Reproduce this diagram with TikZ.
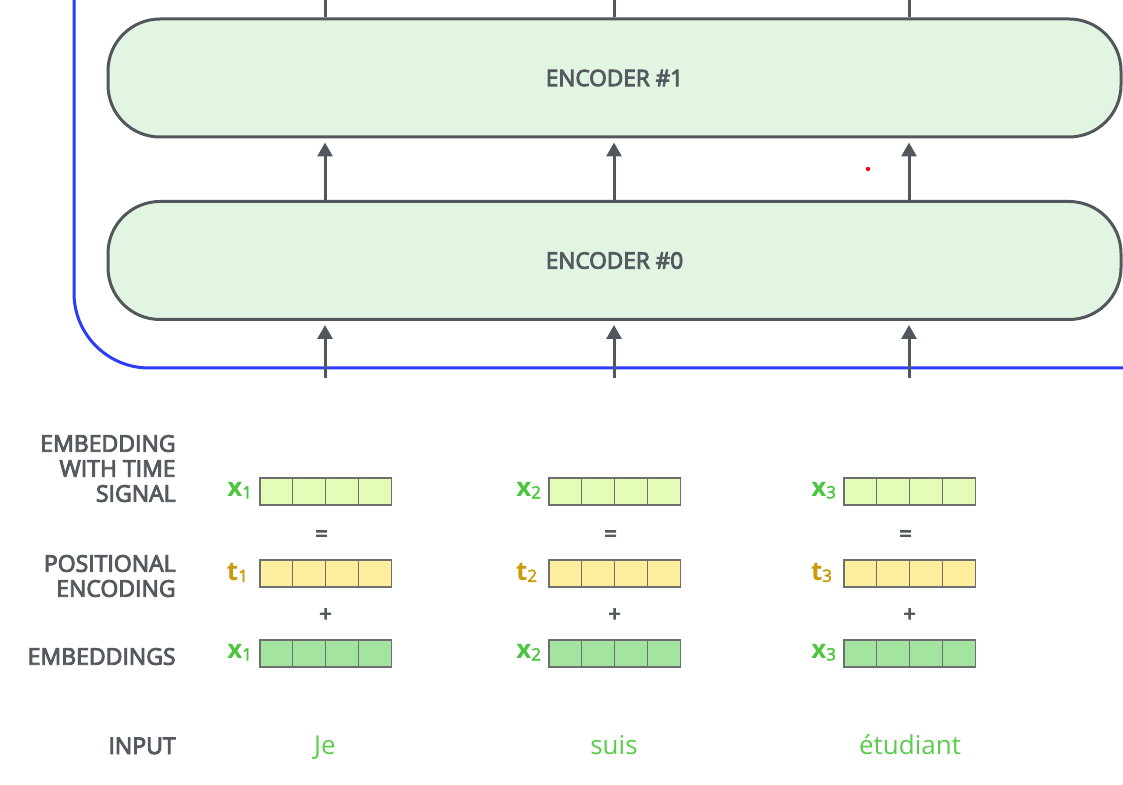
\documentclass[tikz,border=0pt]{standalone}
\usepackage{fontspec}
\setmainfont{Open Sans}
\newfontfamily\sbfont[FakeBold=4]{Open Sans}
\newfontfamily\subfont[FakeBold=2.5]{Open Sans}
\usetikzlibrary{arrows.meta,calc}
\definecolor{blueline}{HTML}{2A3CF8}
\definecolor{boxgray}{HTML}{52575D}
\definecolor{encfill}{HTML}{E2F5E2}
\definecolor{txtgray}{HTML}{555A60}
\definecolor{sigfill}{HTML}{E5FBB8}
\definecolor{posfill}{HTML}{FDEF9E}
\definecolor{embfill}{HTML}{A3E4A0}
\definecolor{cellline}{HTML}{6E7070}
\definecolor{xgreen}{HTML}{4CC540}
\definecolor{tgold}{HTML}{C99A0B}
\definecolor{ingreen}{HTML}{5BCB4C}
\newcommand{\vsub}[1]{\raisebox{-0.8pt}{\fontsize{8.5}{8.5}\subfont\mdseries #1}}
\begin{document}
\begin{tikzpicture}[x=0.5pt,y=-0.5pt,
  enc/.style={draw=boxgray,line width=1.5pt,fill=encfill,rounded corners=26pt,
    minimum width=506.5pt,minimum height=59pt,inner sep=0pt,
    font=\fontsize{11.3}{13}\sbfont,text=txtgray},
  conn/.style={draw=boxgray,line width=1.5pt},
  arr/.style={conn,-{Triangle[width=7.5pt,length=7pt]},shorten >=2pt},
  cell/.style={draw=cellline,line width=0.6pt,minimum width=16.4pt,minimum height=13.5pt,inner sep=0pt},
  lab/.style={font=\fontsize{11.5}{12.5}\sbfont,text=txtgray,align=right,inner sep=0pt},
  vlab/.style={font=\fontsize{13}{13}\selectfont\bfseries,inner sep=0pt,anchor=east},
  op/.style={font=\fontsize{11}{11}\sbfont,text=txtgray,inner sep=0pt},
  word/.style={font=\fontsize{13}{13}\selectfont,text=ingreen,inner sep=0pt,anchor=base}
]
\useasboundingbox (0,0) rectangle (1123,785);
% blue frame
\draw[blueline,line width=1.5pt,rounded corners=37.5pt] (74,-5) -- (74,368) -- (1130,368);
% encoders
\node[enc] (enc1) at (614.5,78) {\raisebox{-1.2pt}{ENCODER \#1}};
\node[enc] (enc0) at (614.5,260.5) {\raisebox{-1.2pt}{ENCODER \#0}};
% columns
\foreach \cx/\ci in {325/1,614/2,909/3}{
  \coordinate (top\ci) at (\cx,-2);
  \coordinate (bot\ci) at (\cx,378);
  \draw[conn] (top\ci) -- (enc1.north -| top\ci);
  \draw[arr] (enc0.north -| top\ci) -- (enc1.south -| top\ci);
  \draw[arr] (bot\ci) -- (enc0.south -| bot\ci);
}
% red dot
\fill[red] (868,169) circle (1.1pt);
% vectors
\foreach \sx/\ci in {260/1,549/2,844/3}{
  \foreach \k in {0,1,2,3}{
    \node[cell,fill=sigfill] (s\ci\k) at ({\sx+16.4+32.8*\k},491.5) {};
    \node[cell,fill=posfill] (p\ci\k) at ({\sx+16.4+32.8*\k},573.5) {};
    \node[cell,fill=embfill] (e\ci\k) at ({\sx+16.4+32.8*\k},653.5) {};
  }
  \node[vlab,text=xgreen] (sl\ci) at ([xshift=-3.5pt,yshift=0.5pt]s\ci0.west) {x\vsub{\ci}};
  \node[vlab,text=tgold] (pl\ci) at ([xshift=-5.5pt,yshift=0.5pt]p\ci0.west) {t\vsub{\ci}};
  \node[vlab,text=xgreen] (el\ci) at ([xshift=-3.5pt,yshift=0.5pt]e\ci0.west) {x\vsub{\ci}};
  \node[op] (eq\ci) at ({\sx+61.6},536) {=};
  \node[op] (pl\ci) at ({\sx+65.6},615) {+};
}
% left labels
\node[lab,anchor=east] (l1) at (176,468.5) {EMBEDDING\\WITH TIME\\SIGNAL};
\node[lab,anchor=east] (l2) at (176,576) {POSITIONAL\\ENCODING};
\node[lab,anchor=east] (l3) at (176,656.5) {EMBEDDINGS};
\node[lab,anchor=base east,font=\fontsize{11.5}{12}\sbfont] (l4) at (176,754) {INPUT};
% input words
\node[word] (w1) at (325,754) {Je};
\node[word] (w2) at (614,754) {suis};
\node[word] (w3) at (910,754) {étudiant};
\end{tikzpicture}
\end{document}
